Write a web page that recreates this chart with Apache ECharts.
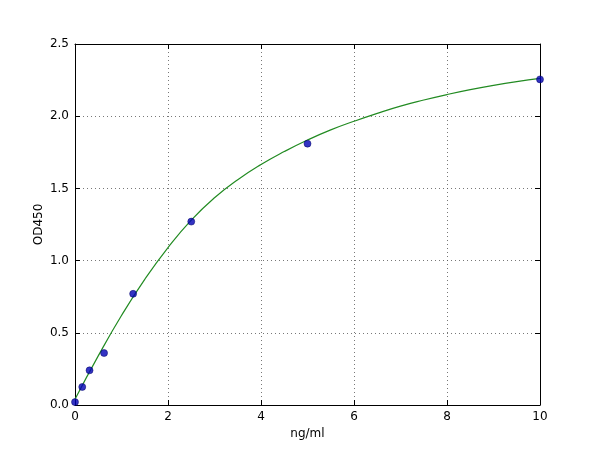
<!DOCTYPE html>
<html><head><meta charset="utf-8">
<script src="https://cdn.jsdelivr.net/npm/echarts@6/dist/echarts.min.js"></script>
<style>html,body{margin:0;padding:0;background:#fff}#c{width:600px;height:450px}</style>
</head><body><div id="c"></div>
<script>
// Standard points (concentration ng/ml, OD450)
const pointX = [0, 0.156, 0.3125, 0.625, 1.25, 2.5, 5, 10];
const pointY = [0.02, 0.125, 0.24, 0.36, 0.77, 1.27, 1.81, 2.255];
// Fitted curve
const curveX = [0, 0.5, 1, 1.5, 2, 2.5, 3, 3.5, 4, 4.5, 5, 5.5, 6, 6.5, 7, 7.5, 8, 8.5, 9, 9.5, 10];
const curveY = [0.04, 0.34, 0.62, 0.87, 1.09, 1.28, 1.435, 1.56, 1.665, 1.755, 1.835, 1.905, 1.965, 2.02, 2.07, 2.112, 2.15, 2.184, 2.214, 2.24, 2.262];
const xTicks = [0, 2, 4, 6, 8, 10];
const yTicks = [0.0, 0.5, 1.0, 1.5, 2.0, 2.5];

const font = 'DejaVu Sans';
const chart = echarts.init(document.getElementById('c'), null, {renderer: 'canvas'});
const lineStyle = {color: '#000', width: 1};
const tickCommon = {show: true, inside: true, length: 5, lineStyle: {color: '#000', width: 1}};
const gridLine = {show: true, lineStyle: {color: '#555', width: 0.8, type: [1, 3]}};
chart.setOption({
  animation: false,
  backgroundColor: '#fff',
  grid: {left: 75, right: 60, top: 44, bottom: 45, containLabel: false},
  xAxis: [{
    type: 'value', min: xTicks[0], max: xTicks[xTicks.length - 1], interval: 2,
    name: 'ng/ml', nameLocation: 'middle', nameGap: 23,
    nameTextStyle: {fontFamily: font, fontSize: 12, color: '#000'},
    axisLine: {show: true, onZero: false, lineStyle},
    axisTick: tickCommon,
    axisLabel: {fontFamily: font, fontSize: 12, color: '#000', margin: 6, formatter: v => String(v)},
    splitLine: gridLine
  }, {
    type: 'value', min: xTicks[0], max: xTicks[xTicks.length - 1], interval: 2, position: 'top',
    axisLine: {show: true, onZero: false, lineStyle},
    axisTick: tickCommon, axisLabel: {show: false}, splitLine: {show: false}
  }],
  yAxis: [{
    type: 'value', min: yTicks[0], max: yTicks[yTicks.length - 1], interval: 0.5,
    name: 'OD450', nameLocation: 'middle', nameGap: 30, nameRotate: 90, nameMoveOverlap: false,
    nameTextStyle: {fontFamily: font, fontSize: 12, color: '#000'},
    axisLine: {show: true, onZero: false, lineStyle},
    axisTick: tickCommon,
    axisLabel: {fontFamily: font, fontSize: 12, color: '#000', margin: 6, formatter: v => v.toFixed(1)},
    splitLine: gridLine
  }, {
    type: 'value', min: yTicks[0], max: yTicks[yTicks.length - 1], interval: 0.5, position: 'right',
    axisLine: {show: true, onZero: false, lineStyle},
    axisTick: tickCommon, axisLabel: {show: false}, splitLine: {show: false}
  }],
  series: [{
    type: 'line', smooth: 0.5, showSymbol: false, symbol: 'none',
    data: curveX.map((x, i) => [x, curveY[i]]),
    lineStyle: {color: '#228b22', width: 1.2}, z: 2
  }, {
    type: 'scatter', symbol: 'circle', symbolSize: 7,
    data: pointX.map((x, i) => [x, pointY[i]]),
    itemStyle: {color: '#0000b4', borderColor: '#000060', borderWidth: 0.6}, z: 3
  }]
});
</script></body></html>
